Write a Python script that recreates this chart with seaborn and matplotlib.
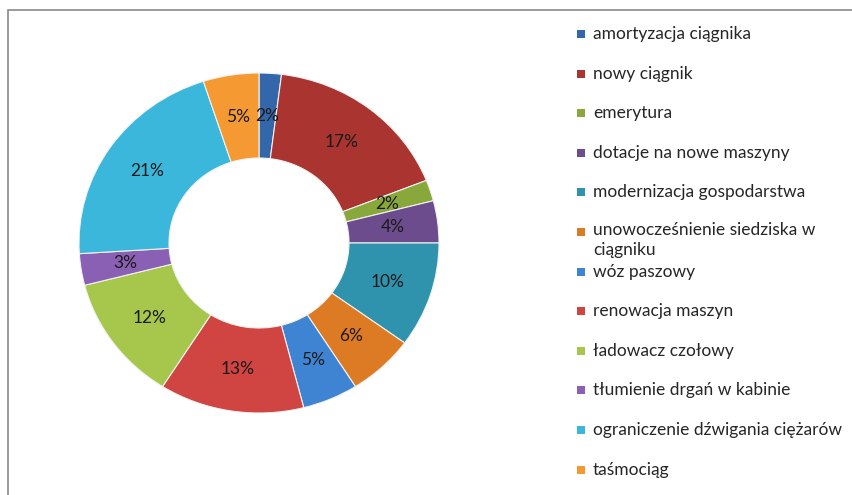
import matplotlib
matplotlib.use("Agg")
import matplotlib.pyplot as plt
import seaborn as sns
from matplotlib.patches import Rectangle

categories = [
    "amortyzacja ciągnika",
    "nowy ciągnik",
    "emerytura",
    "dotacje na nowe maszyny",
    "modernizacja gospodarstwa",
    "unowocześnienie siedziska w\nciągniku",
    "wóz paszowy",
    "renowacja maszyn",
    "ładowacz czołowy",
    "tłumienie drgań w kabinie",
    "ograniczenie dźwigania ciężarów",
    "taśmociąg",
]
values = [2, 17, 2, 4, 10, 6, 5, 13, 12, 3, 21, 5]
colors = [
    "#3467AA", "#A93430", "#88A83C", "#6C4C8C", "#2F93AE", "#DD7A24",
    "#3F84D2", "#D04442", "#A6C74C", "#8960B4", "#3BB7DB", "#F59A32",
]

sns.set_theme(style="white")
plt.rcParams["font.family"] = ["Lato", "DejaVu Sans"]

W, H = 853, 495
fig = plt.figure(figsize=(W / 100, H / 100), dpi=100)
fig.patch.set_facecolor("white")

# frame
fig.patches.append(Rectangle((8 / W, -0.1), 1.2, 1 - 10 / H + 0.1,
                             transform=fig.transFigure, fill=False,
                             edgecolor="#8a8a8a", linewidth=1.2))

cx, cy, rx, ry = 259, 243, 180, 170
ax = fig.add_axes([(cx - rx) / W, 1 - (cy + ry) / H, 2 * rx / W, 2 * ry / H])
wedges, texts, autotexts = ax.pie(
    values, colors=colors, startangle=90, counterclock=False,
    radius=1.0, autopct="%d%%", pctdistance=0.75,
    wedgeprops=dict(width=0.5, edgecolor="#f2f2f2", linewidth=0.8),
    textprops=dict(fontsize=12.5, color="#1a1a1a"),
)
ax.set_xlim(-1, 1)
ax.set_ylim(-1, 1)
ax.set_aspect("auto")
ax.axis("off")

# legend
y0, dy = 34, 39.6
for i, (lab, col) in enumerate(zip(categories, colors)):
    yc = y0 + i * dy
    fig.patches.append(Rectangle((577 / W, 1 - (yc + 4) / H), 8 / W, 8 / H,
                                 transform=fig.transFigure, facecolor=col,
                                 edgecolor="none"))
    if "\n" in lab:
        fig.text(593 / W, 1 - (yc - 10) / H, lab, ha="left", va="top",
                 fontsize=12.5, color="#262626", linespacing=1.3)
    else:
        fig.text(593 / W, 1 - yc / H, lab, ha="left", va="center",
                 fontsize=12.5, color="#262626")

fig.savefig("out.png", dpi=100)
